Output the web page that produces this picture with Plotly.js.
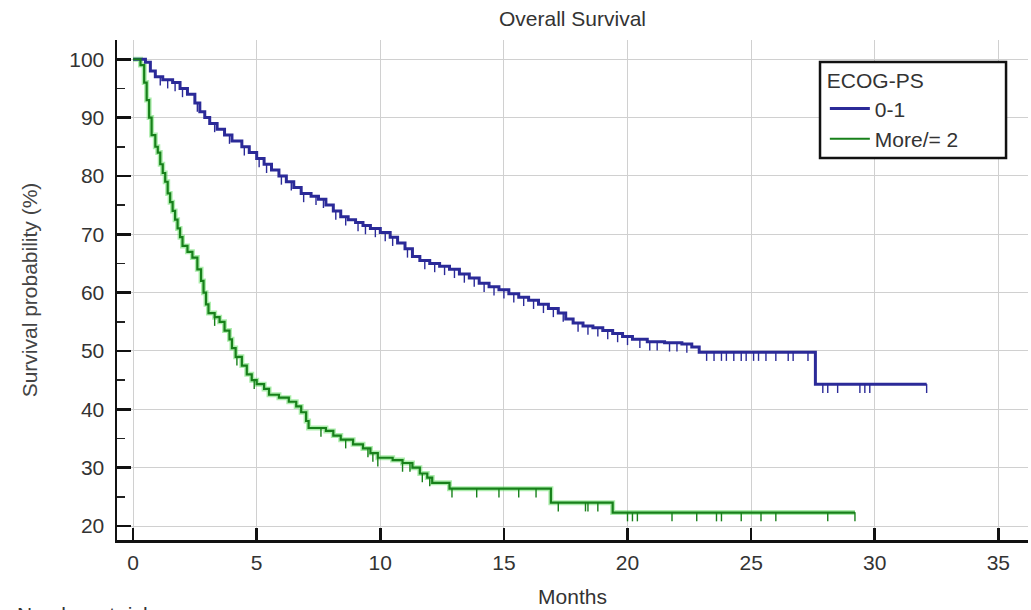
<!DOCTYPE html>
<html>
<head>
<meta charset="utf-8">
<script src="https://cdn.plot.ly/plotly-3.0.1.min.js"></script>
<style>html,body{margin:0;padding:0;background:#fff}#chart{width:1031px;height:610px}</style>
</head>
<body>
<div id="chart"></div>
<script>
// ECOG-PS 0-1 (Kaplan-Meier steps, months / survival %)
const ecog01Months = [0,0.5,0.7,0.9,1.2,1.6,1.9,2.2,2.5,2.7,2.9,3.1,3.4,3.7,4.0,4.4,4.7,5.0,5.3,5.6,5.9,6.2,6.5,6.8,7.2,7.5,7.8,8.1,8.4,8.7,9.0,9.3,9.6,10.0,10.4,10.7,11.0,11.3,11.6,12.0,12.4,12.8,13.2,13.6,14.0,14.4,14.8,15.2,15.6,16.0,16.4,16.8,17.2,17.5,17.8,18.2,18.6,19.0,19.4,19.8,20.2,20.8,21.5,22.2,22.6,22.9,27.6,32.1];
const ecog01Surv   = [100,99.5,98,97,96.5,96,95,94,92.5,91,90,89,88,87,86,85,84,83,82,81,80,79,78,77,76.5,76,75,74,73,72.5,72,71.5,71,70.3,69.5,68.5,67.5,66.2,65.5,65,64.5,64,63.2,62.5,61.6,61,60.5,59.8,59.2,58.7,58,57.3,56.5,55.5,54.8,54.3,54,53.5,53,52.5,52,51.6,51.4,51.2,50.7,49.8,44.3,44.3];
const ecog01Censored = [1.1,1.4,1.7,2.0,2.6,3.3,3.9,4.5,5.1,5.4,6.0,6.4,6.9,7.4,7.7,8.2,8.6,9.1,9.4,9.8,10.2,10.5,11.1,11.8,12.2,12.6,13.0,13.4,13.8,14.2,14.6,15.0,15.4,15.8,16.2,16.6,17.0,17.4,18.0,18.4,18.8,19.2,19.6,20.0,20.5,20.9,21.2,21.7,22.0,22.4,23.2,23.5,23.8,24.0,24.3,24.6,24.8,25.1,25.3,25.6,26.0,26.5,26.7,27.3,27.9,28.1,28.5,29.4,29.6,29.8,32.1];

// ECOG-PS More/= 2
const ecog2Months = [0,0.3,0.45,0.55,0.65,0.75,0.9,1.0,1.1,1.2,1.3,1.4,1.5,1.6,1.7,1.8,1.9,2.0,2.2,2.4,2.6,2.75,2.85,2.95,3.05,3.3,3.5,3.7,3.9,4.0,4.15,4.4,4.6,4.8,5.0,5.3,5.5,5.9,6.3,6.6,6.8,7.0,7.1,7.8,8.1,8.4,8.9,9.3,9.6,9.9,10.5,10.9,11.3,11.6,11.9,12.1,12.8,16.9,19.4,29.2];
const ecog2Surv   = [100,99,96,93,90,87,85,84,82,80.5,79,77,75.5,74,72.5,71,69.5,68,67,66,64,62,60,58,56.5,55.8,55,53.5,52,50.5,49,47.5,46,45,44.3,43.5,42.5,42,41.3,40.5,39.5,38,36.8,36.3,35.5,34.8,34,33.3,32.5,31.7,31.3,30.8,30,29,28.3,27.4,26.4,24.0,22.3,22.3];
const ecog2Censored = [3.3,4.2,4.9,7.6,8.6,9.5,9.7,9.9,10.9,11.2,11.7,12.0,12.9,13.9,14.8,15.6,16.3,17.2,18.3,18.4,18.8,20.0,20.2,20.4,21.8,22.8,23.6,23.8,24.6,25.4,26.0,28.1,29.2];

const seriesNames = ['0-1', 'More/= 2'];
const xTicks = [0,5,10,15,20,25,30,35];
const yTicks = [20,30,40,50,60,70,80,90,100];

function stepAt(ts, ss, t) {
  let v = ss[0];
  for (let i = 0; i < ts.length; i++) { if (ts[i] <= t) v = ss[i]; else break; }
  return v;
}

const blue = '#2b2a98';
const green = '#17801a';
const font = '"Liberation Sans", Arial, sans-serif';
const FS = 21;

function censorTrace(times, ts, ss, color) {
  return {
    x: times, y: times.map(t => stepAt(ts, ss, t)),
    type: 'scatter', mode: 'markers', showlegend: false, hoverinfo: 'skip',
    marker: {size: 1, color: color},
    error_y: {type: 'data', symmetric: false, array: times.map(() => 0), arrayminus: times.map(() => 1.5), width: 0, thickness: 1.4, color: color}
  };
}

const traces = [
  {x: ecog2Months, y: ecog2Surv, type: 'scatter', mode: 'lines', showlegend: false, hoverinfo: 'skip',
   line: {shape: 'hv', color: 'rgba(70,215,70,0.45)', width: 5}},
  {x: ecog01Months, y: ecog01Surv, name: seriesNames[0], type: 'scatter', mode: 'lines', line: {shape: 'hv', color: blue, width: 3}},
  {x: ecog2Months, y: ecog2Surv, name: seriesNames[1], type: 'scatter', mode: 'lines', line: {shape: 'hv', color: green, width: 2.2}},
  censorTrace(ecog01Censored, ecog01Months, ecog01Surv, blue),
  censorTrace(ecog2Censored, ecog2Months, ecog2Surv, green)
];

const layout = {
  width: 1031, height: 610,
  margin: {l: 117, r: 3, t: 40, b: 70},
  paper_bgcolor: '#fff', plot_bgcolor: '#fff',
  font: {family: font, size: FS, color: '#333'},
  title: {text: 'Overall Survival', x: 0.5, xref: 'paper', y: 0.969, yref: 'container', yanchor: 'middle', font: {family: font, size: FS, color: '#333'}},
  xaxis: {
    range: [-0.65, 36.2], tickvals: xTicks, ticktext: xTicks.map(String),
    showline: true, linecolor: '#111', linewidth: 2.5,
    ticks: 'inside', ticklen: 12, tickwidth: 2.5, tickcolor: '#111',
    showgrid: true, gridcolor: '#d0d0d0', gridwidth: 1, zeroline: false,
    tickfont: {size: FS, color: '#333'}, ticklabelstandoff: 2,
    title: {text: 'Months', standoff: 17, font: {size: FS, color: '#333'}}
  },
  yaxis: {
    range: [17.6, 103.3], tickvals: yTicks, ticktext: yTicks.map(String),
    showline: true, linecolor: '#111', linewidth: 2.5,
    ticks: 'inside', ticklen: 14, tickwidth: 2.5, tickcolor: '#111',
    minor: {dtick: 5, tick0: 0, ticks: 'inside', ticklen: 8, tickwidth: 1.5, tickcolor: '#222', showgrid: false},
    showgrid: true, gridcolor: '#d0d0d0', gridwidth: 1, zeroline: false,
    tickfont: {size: FS, color: '#333'}, ticklabelstandoff: 6,
    title: {text: 'Survival probability (%)', standoff: 26, font: {size: FS, color: '#444'}}
  },
  legend: {
    x: 0.777, y: 0.958, xanchor: 'left', yanchor: 'top',
    borderwidth: 0, bgcolor: 'rgba(0,0,0,0)',
    title: {text: 'ECOG-PS', font: {size: FS, color: '#333'}},
    font: {size: FS, color: '#333'}, tracegroupgap: 0, itemwidth: 40
  },
  shapes: [{
    type: 'rect', xref: 'paper', yref: 'paper', x0: 0.7717, x1: 0.9759, y0: 0.764, y1: 0.956,
    line: {color: '#111', width: 2.5}, fillcolor: '#fff', layer: 'above'
  }],
  annotations: [{
    text: 'Number at risk', xref: 'paper', yref: 'paper', x: -0.112, y: -0.121,
    xanchor: 'left', yanchor: 'top', showarrow: false, font: {size: FS, color: '#333'}
  }]
};

Plotly.newPlot('chart', traces, layout, {displayModeBar: false, staticPlot: true});
</script>
</body>
</html>
